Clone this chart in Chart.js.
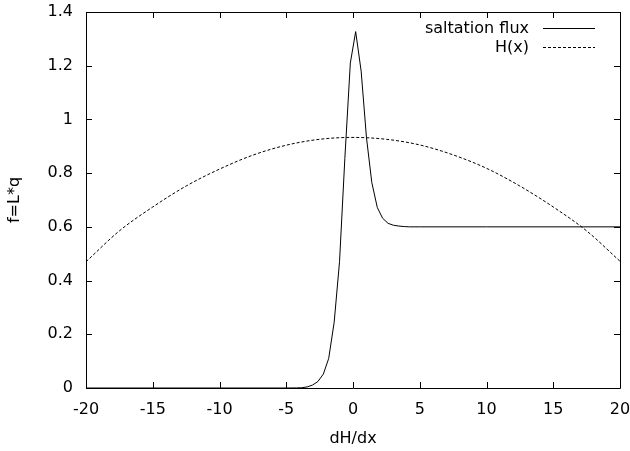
<!DOCTYPE html>
<html>
<head>
<meta charset="utf-8">
<script src="https://cdn.jsdelivr.net/npm/chart.js@4/dist/chart.umd.min.js"></script>
<style>
  html, body { margin: 0; padding: 0; background: #fff; }
  #plot { display: block; }
</style>
</head>
<body>
<canvas id="plot" width="630" height="451"></canvas>
<script>
// Saltation flux sampled against slope dH/dx
const fluxX = [-20, -10, -5, -4.24, -3.84, -3.43, -3.03, -2.63, -2.22, -1.82, -1.41, -1.01, -0.61, -0.20,
               0.20, 0.61, 1.01, 1.41, 1.82, 2.22, 2.63, 3.03, 3.43, 3.84, 4.24, 5, 10, 20];
const fluxY = [0, 0, 0, 0.0003, 0.001, 0.004, 0.011, 0.024, 0.052, 0.11, 0.245, 0.47, 0.855, 1.21,
               1.327, 1.18, 0.932, 0.765, 0.672, 0.632, 0.613, 0.606, 0.603, 0.601, 0.600, 0.600, 0.600, 0.600];

// Dune profile H(x)
const heightX = [-20, -17.5, -15, -12.5, -10, -7.5, -5, -2.5, 0, 2.5, 5, 7.5, 10, 12.5, 15, 17.5, 20];
const heightY = [0.470, 0.585, 0.674, 0.752, 0.815, 0.867, 0.904, 0.926, 0.933, 0.926, 0.905, 0.868, 0.818, 0.752, 0.674, 0.585, 0.472];

const xTicks = [-20, -15, -10, -5, 0, 5, 10, 15, 20];
const yTicks = [0, 0.2, 0.4, 0.6, 0.8, 1, 1.2, 1.4];

const seriesNames = ['saltation flux', 'H(x)'];
const xTitle = 'dH/dx';
const yTitle = 'f=L*q';

const FONT = 'DejaVu Sans';
const toPoints = (xs, ys) => xs.map((x, i) => ({ x: x, y: ys[i] }));

// Fixed scale sizes, no extra room reserved for overhanging tick labels
const fixSize = (s, size) => {
  if (s.isHorizontal()) s.height = size; else s.width = size;
  s.paddingLeft = s.paddingRight = s.paddingTop = s.paddingBottom = 0;
};

// Box around the plot area with inward tick marks on all four sides
const framePlugin = {
  id: 'frame',
  afterDatasetsDraw(chart) {
    const { ctx, chartArea: a, scales } = chart;
    const len = 6;
    ctx.save();
    ctx.strokeStyle = '#000';
    ctx.lineWidth = 1;
    ctx.beginPath();
    ctx.rect(Math.round(a.left) + 0.5, Math.round(a.top) + 0.5,
             Math.round(a.right - a.left), Math.round(a.bottom - a.top));
    scales.x.ticks.forEach(t => {
      const px = Math.round(scales.x.getPixelForValue(t.value)) + 0.5;
      ctx.moveTo(px, a.bottom); ctx.lineTo(px, a.bottom - len);
      ctx.moveTo(px, a.top); ctx.lineTo(px, a.top + len);
    });
    scales.y.ticks.forEach(t => {
      const py = Math.round(scales.y.getPixelForValue(t.value)) + 0.5;
      ctx.moveTo(a.left, py); ctx.lineTo(a.left + len, py);
      ctx.moveTo(a.right, py); ctx.lineTo(a.right - len, py);
    });
    ctx.stroke();
    ctx.restore();
  }
};

// Key in the upper right corner: right-aligned label followed by a line sample
const keyPlugin = {
  id: 'key',
  afterDraw(chart) {
    const { ctx } = chart;
    const textRight = 529, lineStart = 543, lineEnd = 595;
    const rows = [27.5, 47];
    ctx.save();
    ctx.font = '16px "' + FONT + '"';
    ctx.textAlign = 'right';
    ctx.textBaseline = 'middle';
    chart.data.datasets.forEach((ds, i) => {
      const y = rows[i];
      ctx.fillStyle = '#000';
      ctx.fillText(ds.label, textRight, y + 1);
      ctx.strokeStyle = ds.borderColor;
      ctx.lineWidth = ds.borderWidth;
      ctx.setLineDash(ds.borderDash || []);
      ctx.beginPath();
      ctx.moveTo(lineStart, Math.round(y) + 0.5);
      ctx.lineTo(lineEnd, Math.round(y) + 0.5);
      ctx.stroke();
    });
    ctx.restore();
  }
};

new Chart(document.getElementById('plot'), {
  type: 'line',
  data: {
    datasets: [
      {
        label: seriesNames[0],
        data: toPoints(fluxX, fluxY),
        borderColor: '#000',
        borderWidth: 1,
        pointRadius: 0,
        tension: 0,
        fill: false
      },
      {
        label: seriesNames[1],
        data: toPoints(heightX, heightY),
        borderColor: '#000',
        borderWidth: 1,
        borderDash: [3, 2],
        pointRadius: 0,
        cubicInterpolationMode: 'monotone',
        fill: false
      }
    ]
  },
  options: {
    responsive: false,
    animation: false,
    events: [],
    layout: { autoPadding: false, padding: { left: 0, top: 12, right: 10, bottom: 0 } },
    plugins: { legend: { display: false }, tooltip: { enabled: false } },
    scales: {
      x: {
        type: 'linear',
        min: -20, max: 20,
        afterBuildTicks: s => { s.ticks = xTicks.map(v => ({ value: v })); },
        afterFit: s => fixSize(s, 63),
        grid: { display: false, drawTicks: false },
        border: { display: false },
        ticks: { color: '#000', padding: 12, maxRotation: 0, font: { family: FONT, size: 16 } },
        title: { display: true, text: xTitle, color: '#000', padding: { top: 0, bottom: 3 },
                 font: { family: FONT, size: 16 } }
      },
      y: {
        type: 'linear',
        min: 0, max: 1.4,
        afterBuildTicks: s => { s.ticks = yTicks.map(v => ({ value: v })); },
        afterFit: s => fixSize(s, 86),
        grid: { display: false, drawTicks: false },
        border: { display: false },
        ticks: { color: '#000', padding: 13, font: { family: FONT, size: 16 },
                 callback: v => String(Math.round(v * 10) / 10) },
        title: { display: true, text: yTitle, color: '#000', padding: { top: 5, bottom: 0 },
                 font: { family: FONT, size: 16 } }
      }
    }
  },
  plugins: [framePlugin, keyPlugin]
});
</script>
</body>
</html>
